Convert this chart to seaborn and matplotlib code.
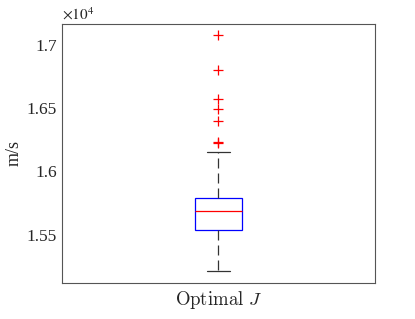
import numpy as np
import pandas as pd
import matplotlib as mpl
mpl.use("Agg")
from matplotlib import pyplot as plt
from matplotlib.ticker import FuncFormatter
import seaborn as sns

# velocity samples (m/s): whisker ends, quartiles, median and outliers
speeds = [15214, 15290, 15340, 15380, 15410, 15440, 15470, 15490, 15510, 15525,
          15537, 15552, 15568, 15585, 15600, 15615, 15630, 15648, 15662, 15675,
          15684, 15695, 15705, 15716, 15728, 15740, 15752, 15764, 15775, 15783,
          15790, 15850, 15980, 16150,
          16225, 16232, 16395, 16495, 16572, 16801, 17074]
group = [r"$\mathrm{Optimal}\ J$"] * len(speeds)
yticks = [15500, 16000, 16500, 17000]

sns.set_style("white")
plt.rcParams["font.family"] = ["Liberation Serif", "DejaVu Serif"]
plt.rcParams["mathtext.fontset"] = "cm"

df = pd.DataFrame({"case": group, "speed": speeds})

fig = plt.figure(figsize=(4.15, 3.19), dpi=100)
ax = fig.add_axes([0.149, 0.113, 0.755, 0.812])

sns.boxplot(data=df, x="case", y="speed", width=0.15, whis=1.5, ax=ax,
            boxprops=dict(facecolor="none", edgecolor="blue", linewidth=0.9),
            whiskerprops=dict(color="#333333", linestyle=(0, (8, 4)), linewidth=0.9),
            capprops=dict(color="#333333", linewidth=0.9),
            medianprops=dict(color="red", linewidth=0.9),
            flierprops=dict(marker="+", markeredgecolor="red", markersize=7,
                            markeredgewidth=0.9))

ax.set_xlim(-0.5, 0.5)
ax.set_ylim(15119, 17164)
ax.set_yticks(yticks)
ax.yaxis.set_major_formatter(FuncFormatter(lambda v, p: f"{v / 1e4:g}"))
ax.set_xlabel("")
ax.set_ylabel("m/s", fontsize=13, labelpad=3)
ax.tick_params(axis="y", direction="in", labelsize=12.5, length=3, width=0.6,
               colors="#262626")
ax.tick_params(axis="x", length=0, pad=4, labelsize=13.5, colors="#262626")
for s in ax.spines.values():
    s.set_color("#555555")
    s.set_linewidth(0.8)
ax.text(0.0, 1.005, r"$\times10^{4}$", transform=ax.transAxes, fontsize=11,
        ha="left", va="bottom", math_fontfamily="stix", color="#262626")

fig.savefig("out.png", dpi=100)
